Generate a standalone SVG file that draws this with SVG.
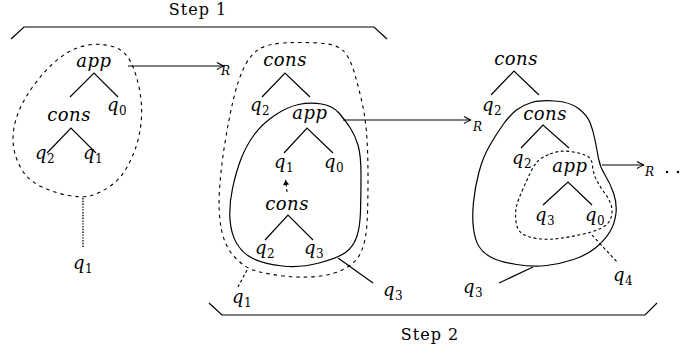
<svg xmlns="http://www.w3.org/2000/svg" width="686" height="354" viewBox="0 0 686 354" font-family="'DejaVu Serif', 'Liberation Serif', serif">
<defs>
<marker id="tip" markerWidth="12" markerHeight="10" refX="0" refY="5" orient="auto" markerUnits="userSpaceOnUse" viewBox="-9 0 12 10" overflow="visible">
<path d="M-7,1.5 Q-2,4.5 0,5 Q-2,5.5 -7,8.5" fill="none" stroke="#000" stroke-width="1.1"/>
</marker>
<marker id="ftip" markerWidth="8" markerHeight="8" refX="0" refY="0" orient="auto" markerUnits="userSpaceOnUse" viewBox="-6 -4 8 8" overflow="visible">
<path d="M-5,-3 L0,0 L-5,3 Z" fill="#000"/>
</marker>
<style>
text{font-family:'DejaVu Serif','Liberation Serif',serif}
.m{font-style:italic;font-size:18px;letter-spacing:0.5px;fill:#000}
.s{font-style:normal;font-size:12px;letter-spacing:0}
.r{font-style:italic;font-size:12px;fill:#000}
.t{font-size:16px;letter-spacing:1px;fill:#000}
.ln{fill:none;stroke:#000;stroke-width:1.2}
.dash{fill:none;stroke:#000;stroke-width:1.1;stroke-dasharray:3.5 4}
.dash2{fill:none;stroke:#000;stroke-width:1.1;stroke-dasharray:3 2.5}
.dot{fill:none;stroke:#000;stroke-width:1.3;stroke-dasharray:1.4 1.4}
.arr{fill:none;stroke:#000;stroke-width:1.2;marker-end:url(#tip)}
</style>
</defs>

<g id="step1">
<path class="ln" d="M11,39 L24,27 L374,27 L387,39"/>
<text class="t" x="198" y="15" text-anchor="middle">Step 1</text>
</g>
<g id="step2">
<path class="ln" d="M209,303 L222,315 L645,315 L657,303"/>
<text class="t" x="430" y="340" text-anchor="middle">Step 2</text>
</g>

<g id="term1">
<path class="dash" d="M88.5,45 Q100,43 112.5,46.5 Q125,50 131,62.5 Q137,75 140,92.5 Q143,110 140.5,127.5 Q138,145 130,161.5 Q122,178 111,185.5 Q100,193 91.5,195.5 Q83,198 69,195.5 Q55,193 41,186.5 Q27,180 20,166.5 Q13,153 13,139 Q13,125 19,111 Q25,97 34,85 Q43,73 51.5,65 Q60,57 68.5,52 Q77,47 88.5,45 Z"/>
<text class="m" x="94" y="67" text-anchor="middle">app</text>
<path class="ln" d="M70,97 L94,73 L118,97"/>
<text class="m" x="107" y="111">q<tspan class="s" dy="4">0</tspan></text>
<text class="m" x="69" y="121" text-anchor="middle">cons</text>
<path class="ln" d="M47,153 L71,128 L96,153"/>
<text class="m" x="35" y="159">q<tspan class="s" dy="4">2</tspan></text>
<text class="m" x="83" y="159">q<tspan class="s" dy="4">1</tspan></text>
<path class="dot" d="M83,198 L83,248"/>
<text class="m" x="73" y="269">q<tspan class="s" dy="4">1</tspan></text>
</g>

<g id="term2">
<path class="dash" d="M283.5,43 Q300,42 318.5,43 Q337,44 343.5,51 Q350,58 354,71.5 Q358,85 361.5,100 Q365,115 366.5,132.5 Q368,150 368,178.5 Q368,207 367,223.5 Q366,240 361.5,251 Q357,262 345,268.5 Q333,275 316.5,276.5 Q300,278 283.5,276 Q267,274 256,271 Q245,268 235,257.5 Q225,247 221.5,230 Q218,213 219.5,190 Q221,167 225,142.5 Q229,118 233.5,99 Q238,80 244,67.5 Q250,55 258.5,49.5 Q267,44 283.5,43 Z"/>
<path class="ln" d="M298.5,104.5 Q310,102 321.5,104 Q333,106 339,113 Q345,120 350,127.5 Q355,135 358,145 Q361,155 361,175 Q361,195 360.5,211.5 Q360,228 356.5,237.5 Q353,247 345.5,252.5 Q338,258 319,263 Q300,268 282.5,266 Q265,264 254,259 Q243,254 237,244 Q231,234 230,219.5 Q229,205 232.5,188.5 Q236,172 241,159 Q246,146 254,135 Q262,124 274.5,115.5 Q287,107 298.5,104.5 Z"/>
<text class="m" x="285" y="66" text-anchor="middle">cons</text>
<path class="ln" d="M262,97 L285,73 L310,97"/>
<text class="m" x="250" y="111">q<tspan class="s" dy="4">2</tspan></text>
<text class="m" x="310" y="119" text-anchor="middle">app</text>
<path class="ln" d="M284,153 L307,128 L333,153"/>
<text class="m" x="274" y="168">q<tspan class="s" dy="4">1</tspan></text>
<text class="m" x="324" y="168">q<tspan class="s" dy="4">0</tspan></text>
<path class="dash2" d="M287,192 L285.5,180" marker-end="url(#ftip)"/>
<text class="m" x="287" y="210" text-anchor="middle">cons</text>
<path class="ln" d="M265,240 L288,215 L313,240"/>
<text class="m" x="255" y="254">q<tspan class="s" dy="4">2</tspan></text>
<text class="m" x="304" y="254">q<tspan class="s" dy="4">3</tspan></text>
<path class="dash2" d="M247,270 L238,287"/>
<text class="m" x="232" y="303">q<tspan class="s" dy="4">1</tspan></text>
<path class="ln" d="M338,258 L373,283"/>
<text class="m" x="383" y="296">q<tspan class="s" dy="4">3</tspan></text>
</g>

<g id="term3">
<path class="ln" d="M516.5,110 Q523,105 531.5,102.5 Q540,100 555,101 Q570,102 578.5,108.5 Q587,115 590,122.5 Q593,130 595,140 Q597,150 598.5,158.5 Q600,167 605,175 Q610,183 613.5,193 Q617,203 616,213 Q615,223 610,231.5 Q605,240 596,247.5 Q587,255 573.5,259.5 Q560,264 546.5,265.5 Q533,267 516.5,264.5 Q500,262 491.5,257.5 Q483,253 479,246.5 Q475,240 473.5,228.5 Q472,217 473.5,202 Q475,187 479,172 Q483,157 490,145 Q497,133 503.5,124 Q510,115 516.5,110 Z"/>
<path class="dash2" d="M550,154 Q560,150 570,151.5 Q580,153 586,155.5 Q592,158 592.5,165.5 Q593,173 596.5,180 Q600,187 605,193.5 Q610,200 611.5,206.5 Q613,213 610.5,219 Q608,225 600.5,228.5 Q593,232 581.5,234.5 Q570,237 558.5,238.5 Q547,240 537,238.5 Q527,237 522,233.5 Q517,230 516,221.5 Q515,213 516.5,206.5 Q518,200 522.5,190 Q527,180 530,173.5 Q533,167 536.5,162.5 Q540,158 550,154 Z"/>
<text class="m" x="516" y="65" text-anchor="middle">cons</text>
<path class="ln" d="M491,95 L514,71 L539,95"/>
<text class="m" x="482" y="111">q<tspan class="s" dy="4">2</tspan></text>
<text class="m" x="545" y="120" text-anchor="middle">cons</text>
<path class="ln" d="M521,148 L543,125 L569,148"/>
<text class="m" x="512" y="164">q<tspan class="s" dy="4">2</tspan></text>
<text class="m" x="570" y="172" text-anchor="middle">app</text>
<path class="ln" d="M543,205 L568,182 L592,205"/>
<text class="m" x="535" y="221">q<tspan class="s" dy="4">3</tspan></text>
<text class="m" x="585" y="221">q<tspan class="s" dy="4">0</tspan></text>
<path class="dash2" d="M592,235 L618,263"/>
<text class="m" x="613" y="281">q<tspan class="s" dy="4">4</tspan></text>
<path class="ln" d="M533,267 L499,283"/>
<text class="m" x="463" y="293">q<tspan class="s" dy="4">3</tspan></text>
</g>

<g id="connectors">
<path class="arr" d="M128,66 L224,66"/>
<text class="r" x="221" y="75">R</text>
<path class="arr" d="M343,120 L471,120"/>
<text class="r" x="473" y="131">R</text>
<path class="arr" d="M602,165 L644,165"/>
<text class="r" x="645" y="176">R</text>
<circle cx="667" cy="172" r="1.2" fill="#000"/>
<circle cx="678" cy="172" r="1.2" fill="#000"/>
</g>
</svg>
